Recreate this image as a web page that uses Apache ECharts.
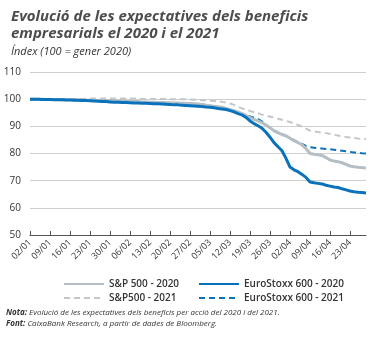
<!DOCTYPE html>
<html>
<head>
<meta charset="utf-8">
<script src="https://cdn.jsdelivr.net/npm/echarts@6/dist/echarts.min.js"></script>
<style>
  html, body { margin: 0; padding: 0; background: #fff; }
  #main { width: 375px; height: 338px; }
</style>
</head>
<body>
<div id="main"></div>
<script>
// dies hàbils del 02/01/2020 al 29/04/2020
var days = [];
var d = new Date(2020, 0, 2);
while (d <= new Date(2020, 3, 29)) {
  if (d.getDay() !== 0 && d.getDay() !== 6) {
    days.push(('0' + d.getDate()).slice(-2) + '/' + ('0' + (d.getMonth() + 1)).slice(-2));
  }
  d.setDate(d.getDate() + 1);
}

var sp2020 = [
  100, 100, 100, 100, 99.9, 99.9, 99.9, 99.9, 99.8, 99.8,
  99.8, 99.7, 99.7, 99.7, 99.6, 99.6, 99.5, 99.5, 99.5, 99.4,
  99.4, 99.3, 99.3, 99.3, 99.2, 99.2, 99.1, 99.1, 99.0, 99.0,
  98.9, 98.9, 98.8, 98.8, 98.7, 98.7, 98.6, 98.6, 98.5, 98.5,
  98.4, 98.3, 98.2, 98.0, 97.8, 97.6, 97.4, 97.2, 97.0, 96.6,
  96.2, 95.8, 95.3, 94.7, 94.0, 93.2, 92.5, 92.0, 91.3, 90.5,
  89.5, 88.3, 87.6, 87.0, 86.5, 85.6, 84.7, 84.0, 83.2, 81.8,
  80.0, 79.7, 79.5, 79.3, 78.5, 77.6, 77.2, 77.0, 76.6, 76.0,
  75.4, 75.1, 74.9, 74.8, 74.7
];
var es2020 = [
  100, 100, 100, 99.9, 99.9, 99.9, 99.8, 99.8, 99.8, 99.7,
  99.7, 99.6, 99.6, 99.5, 99.5, 99.4, 99.3, 99.2, 99.1, 99.1,
  99.0, 98.9, 98.9, 98.8, 98.8, 98.7, 98.6, 98.6, 98.5, 98.5,
  98.4, 98.3, 98.3, 98.2, 98.1, 98.0, 97.9, 97.9, 97.8, 97.7,
  97.6, 97.5, 97.4, 97.3, 97.1, 97.0, 96.8, 96.6, 96.4, 96.2,
  95.8, 95.3, 94.7, 94.2, 93.3, 92.0, 91.0, 90.2, 89.3, 87.8,
  86.0, 84.0, 82.5, 81.0, 78.2, 75.0, 74.0, 73.3, 72.3, 71.2,
  69.5, 69.2, 69.0, 68.8, 68.3, 68.0, 67.7, 67.5, 67.0, 66.6,
  66.2, 65.9, 65.7, 65.6, 65.5
];
var sp2021 = [
  100, 100, 100, 100, 100, 100, 100, 100, 100.1, 100.1,
  100.1, 100.1, 100.1, 100.1, 100.2, 100.2, 100.2, 100.2, 100.2, 100.2,
  100.2, 100.2, 100.2, 100.2, 100.2, 100.2, 100.2, 100.2, 100.1, 100.1,
  100.1, 100.1, 100.1, 100.1, 100.1, 100.0, 100.0, 100.0, 100.0, 100.0,
  99.9, 99.8, 99.7, 99.6, 99.5, 99.4, 99.3, 99.2, 99.0, 98.8,
  98.4, 97.9, 97.2, 96.6, 96.1, 95.7, 95.2, 94.8, 94.3, 93.9,
  93.6, 93.2, 92.8, 92.4, 92.0, 91.6, 91.0, 90.5, 89.9, 89.2,
  88.4, 88.1, 87.9, 87.7, 87.5, 87.2, 86.9, 86.6, 86.4, 86.1,
  85.9, 85.7, 85.5, 85.4, 85.3
];
var es2021 = [
  100, 100, 100, 100, 100, 99.9, 99.9, 99.9, 99.9, 99.8,
  99.8, 99.8, 99.7, 99.7, 99.7, 99.6, 99.6, 99.5, 99.5, 99.4,
  99.4, 99.3, 99.3, 99.2, 99.2, 99.1, 99.1, 99.0, 99.0, 98.9,
  98.9, 98.8, 98.8, 98.7, 98.7, 98.6, 98.6, 98.5, 98.5, 98.4,
  98.3, 98.2, 98.1, 98.0, 97.8, 97.6, 97.3, 97.0, 96.8, 96.5,
  96.0, 95.5, 95.0, 94.5, 94.0, 93.6, 93.2, 92.7, 91.8, 90.5,
  89.4, 88.6, 87.8, 87.1, 86.4, 85.6, 84.9, 84.2, 83.5, 82.8,
  82.3, 82.1, 81.9, 81.8, 81.7, 81.6, 81.4, 81.2, 81.0, 80.8,
  80.6, 80.4, 80.3, 80.1, 80.0
];

var blau = '#0a72bb';
var gris = '#b5bec4';
var grisClar = '#c3c7cb';
var font = '"Open Sans", sans-serif';

var chart = echarts.init(document.getElementById('main'));
var llegenda = {
  orient: 'vertical', itemGap: 4, top: 274,
  itemWidth: 40, itemHeight: 10,
  itemStyle: { opacity: 0 },
  textStyle: { fontSize: 10, color: '#333', fontWeight: 600 }
};
var option = {
  animation: false,
  textStyle: { fontFamily: font },
  title: [
    {
      text: 'Evolució de les expectatives dels beneficis\nempresarials el 2020 i el 2021',
      left: 6, top: 3,
      textStyle: { fontSize: 15, fontWeight: 'bold', fontStyle: 'italic', color: '#4d4d4d', lineHeight: 17, fontFamily: font }
    },
    {
      text: 'Índex (100 = gener 2020)',
      left: 6, top: 41,
      textStyle: { fontSize: 11, fontWeight: 'normal', fontStyle: 'italic', color: '#333', fontFamily: font }
    }
  ],
  grid: { left: 30, right: 9, top: 72, bottom: 103 },
  legend: [
    Object.assign({ left: 58, data: ['S&P 500 - 2020', 'S&P500 - 2021'] }, llegenda),
    Object.assign({ left: 193, data: ['EuroStoxx 600 - 2020', 'EuroStoxx 600 - 2021'] }, llegenda)
  ],
  xAxis: {
    type: 'category',
    data: days,
    boundaryGap: false,
    axisLine: { lineStyle: { color: '#555', width: 1 } },
    axisTick: { inside: true, length: 4, interval: 4, alignWithLabel: true, lineStyle: { color: '#555' } },
    axisLabel: { interval: 4, rotate: 45, fontSize: 9, color: '#333', margin: 6 }
  },
  yAxis: {
    type: 'value',
    min: 50, max: 110, interval: 10,
    axisLine: { show: false },
    axisTick: { show: false },
    axisLabel: { fontSize: 10, color: '#333', margin: 9 },
    splitLine: { lineStyle: { color: '#cfcfcf', width: 1 } }
  },
  series: [
    {
      name: 'S&P500 - 2021', type: 'line', data: sp2021, symbol: 'none',
      lineStyle: { color: grisClar, width: 2, type: [6, 4] }, itemStyle: { color: grisClar }
    },
    {
      name: 'EuroStoxx 600 - 2021', type: 'line', data: es2021, symbol: 'none',
      lineStyle: { color: blau, width: 2, type: [6, 4] }, itemStyle: { color: blau }
    },
    {
      name: 'S&P 500 - 2020', type: 'line', data: sp2020, symbol: 'none',
      lineStyle: { color: gris, width: 3 }, itemStyle: { color: gris }
    },
    {
      name: 'EuroStoxx 600 - 2020', type: 'line', data: es2020, symbol: 'none',
      lineStyle: { color: blau, width: 3 }, itemStyle: { color: blau }
    }
  ],
  graphic: [
    {
      type: 'text', left: 6, top: 307,
      style: {
        text: '{b|Nota:} Evolució de les expectatives dels beneficis per acció del 2020 i del 2021.\n{b|Font:} CaixaBank Research, a partir de dades de Bloomberg.',
        font: 'italic 8px ' + font, fill: '#333', lineHeight: 11,
        rich: { b: { fontWeight: 'bold', fontStyle: 'italic', fontSize: 8, fontFamily: font, fill: '#333' } }
      }
    }
  ]
};
chart.setOption(option);
</script>
</body>
</html>
